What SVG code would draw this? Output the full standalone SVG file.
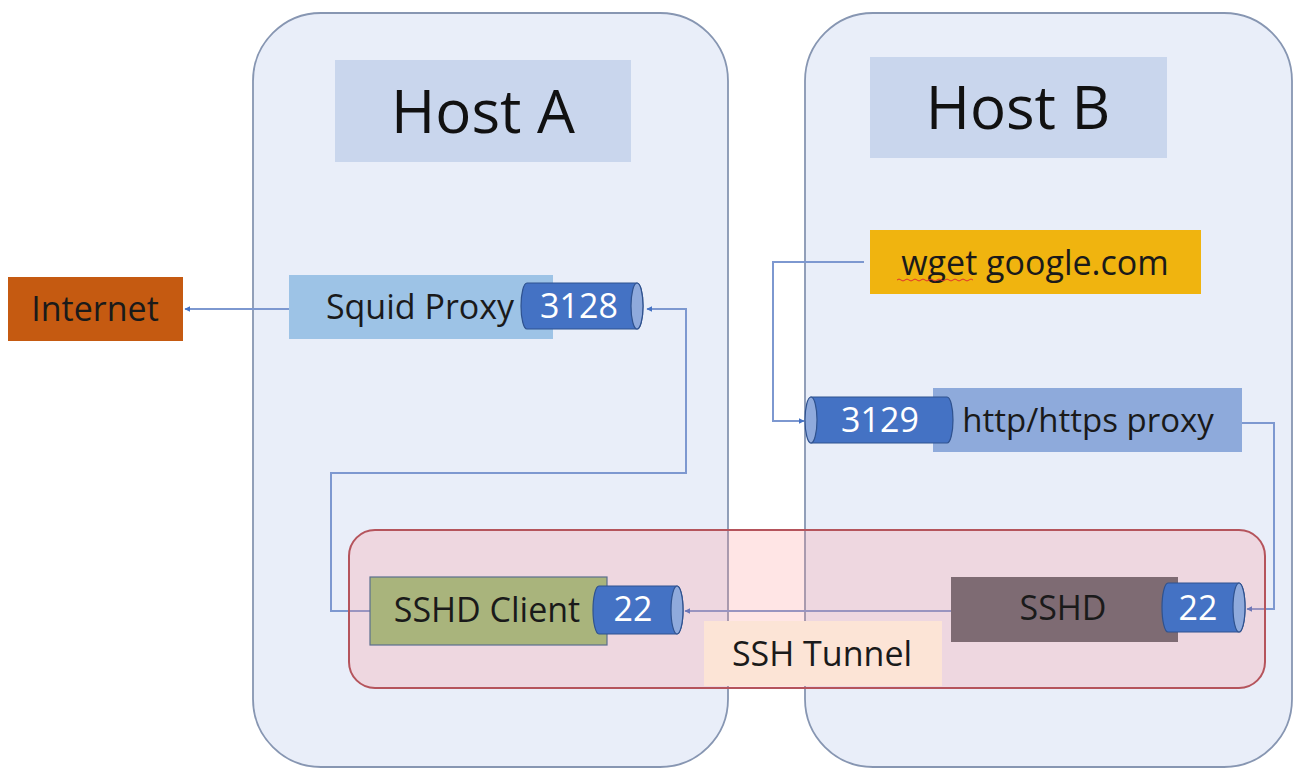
<svg xmlns="http://www.w3.org/2000/svg" width="1294" height="769" viewBox="0 0 1294 769">
<style>
text{font-family:"Open Sans","Noto Sans","Liberation Sans",sans-serif;text-anchor:middle}
.host{fill:#e9eef9;stroke:#8796b2;stroke-width:1.8}
.title{fill:#c9d6ed}
.ht{font-size:60px;fill:#111}
.t{font-size:34px;fill:#1a1a1a}
.cyl{fill:#4472c4;stroke:#2f528f;stroke-width:1.2}
.cap{fill:#8faadc;stroke:#2f528f;stroke-width:1.2}
.w{font-size:34px;fill:#fff}
.conn{fill:none;stroke:#7d98d0;stroke-width:2}
</style>
<defs>
<marker id="arr" viewBox="0 0 10 10" refX="9" refY="5" markerWidth="6" markerHeight="6" orient="auto-start-reverse" markerUnits="userSpaceOnUse">
<path d="M0,0 L10,5 L0,10 Z" fill="#4472c4"/>
</marker>
</defs>
<rect width="1294" height="769" fill="#fff"/>
<g id="hostA">
<rect class="host" x="253" y="13" width="475" height="754" rx="68" ry="68"/>
<rect class="title" x="335" y="60" width="296" height="102"/>
<text class="ht" x="483" y="133">Host A</text>
</g>
<g id="hostB">
<rect class="host" x="805" y="13" width="487" height="754" rx="68" ry="68"/>
<rect class="title" x="870" y="57" width="297" height="101"/>
<text class="ht" x="1018" y="129">Host B</text>
</g>
<g id="connectors">
<path class="conn" d="M289,309 L185,309" marker-end="url(#arr)"/>
<path class="conn" d="M370,611 L331,611 L331,473 L686,473 L686,309 L647,309" marker-end="url(#arr)"/>
<path class="conn" d="M864,262 L773,262 L773,421 L804,421" marker-end="url(#arr)"/>
<path class="conn" d="M1236,423 L1274,423 L1274,609 L1247,609" marker-end="url(#arr)"/>
<path class="conn" d="M960,611 L685,611" marker-end="url(#arr)"/>
</g>
<g id="tunnel">
<rect x="349" y="530" width="916" height="158" rx="26" ry="26" fill="#ff8a8a" fill-opacity="0.22" stroke="#b5545c" stroke-width="2"/>
</g>
<g id="internet">
<rect x="8" y="277" width="175" height="64" fill="#c55a11"/>
<text class="t" x="95" y="321">Internet</text>
</g>
<g id="squid">
<rect x="289" y="275" width="264" height="64" fill="#9dc3e6"/>
<text class="t" x="420" y="319" fill="#1b2a40">Squid Proxy</text>
<path class="cyl" d="M527,283 L637,283 A6,23 0 0 1 637,329 L527,329 A6,23 0 0 1 527,283 Z"/>
<ellipse class="cap" cx="637" cy="306" rx="6" ry="23"/>
<text class="w" x="579" y="318">3128</text>
</g>
<g id="wget">
<rect x="870" y="230" width="331" height="64" fill="#f0b40f"/>
<text class="t" x="1035" y="275" fill="#111">wget google.com</text>
<path d="M897,280 q2,-2 4,0 t4,0 t4,0 t4,0 t4,0 t4,0 t4,0 t4,0 t4,0 t4,0 t4,0 t4,0 t4,0 t4,0 t4,0 t4,0 t4,0 t4,0 t4,0" fill="none" stroke="#e03030" stroke-width="1"/>
</g>
<g id="httpproxy">
<rect x="933" y="388" width="309" height="64" fill="#8eaadb"/>
<text class="t" x="1088" y="432" style="font-size:33px" fill="#111">http/https proxy</text>
<path class="cyl" d="M811,397 L947,397 A6,23 0 0 1 947,443 L811,443 Z"/>
<ellipse class="cap" cx="811" cy="420" rx="6" ry="23"/>
<text class="w" x="880" y="432">3129</text>
</g>
<g id="sshlabel">
<rect x="704" y="621" width="238" height="65" fill="#fce4d6"/>
<text class="t" x="822" y="666">SSH Tunnel</text>
</g>
<g id="sshdclient">
<rect x="370" y="577" width="237" height="68" fill="#a9b47c" stroke="#5b6f8e" stroke-width="1.2"/>
<text class="t" x="487" y="622">SSHD Client</text>
<path class="cyl" d="M599,586 L677,586 A6,24 0 0 1 677,634 L599,634 A6,24 0 0 1 599,586 Z"/>
<ellipse class="cap" cx="677" cy="610" rx="6" ry="24"/>
<text class="w" x="633" y="621">22</text>
</g>
<g id="sshd">
<rect x="951" y="577" width="227" height="65" fill="#7e6b73"/>
<text class="t" x="1063" y="620" fill="#2a2024">SSHD</text>
<path class="cyl" d="M1168,583 L1239,583 A6,24.5 0 0 1 1239,632 L1168,632 A6,24.5 0 0 1 1168,583 Z"/>
<ellipse class="cap" cx="1239" cy="607.5" rx="6" ry="24.5"/>
<text class="w" x="1198" y="620">22</text>
</g>
</svg>
